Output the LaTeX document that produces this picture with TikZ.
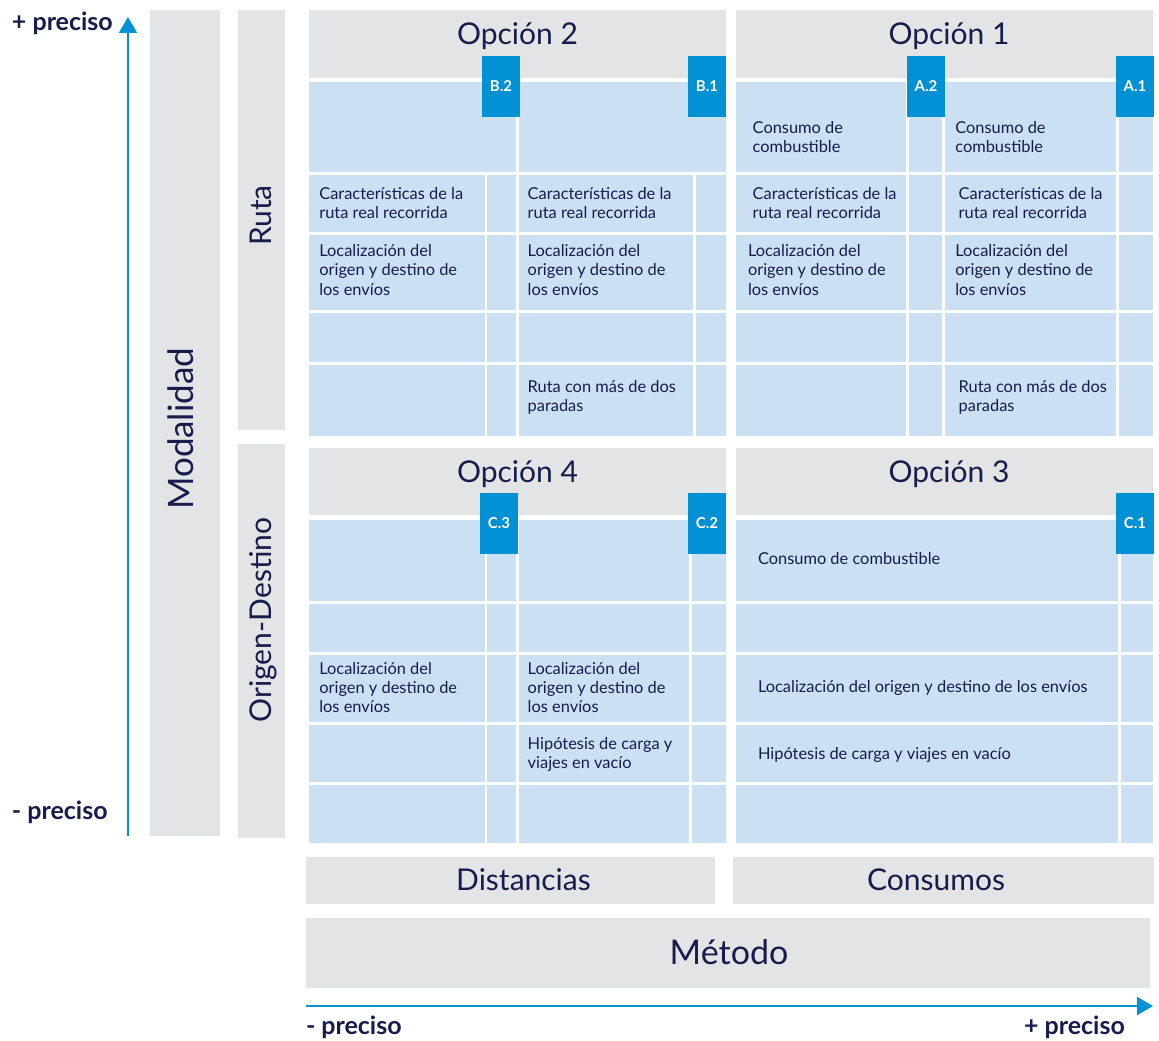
\documentclass[tikz,border=0pt]{standalone}
\usepackage{fontspec}
\setmainfont{Lato}
\usetikzlibrary{arrows.meta}

\definecolor{bargrey}{HTML}{E3E4E6}
\definecolor{cellblue}{HTML}{CCE0F4}
\definecolor{tagblue}{HTML}{0091D5}
\definecolor{inkblue}{HTML}{161C4B}

\begin{document}
\begin{tikzpicture}[x=1pt, y=-1pt, inner sep=0, outer sep=0,
  greybox/.style={rectangle, fill=bargrey, anchor=north west},
  cellarea/.style={rectangle, fill=cellblue, anchor=north west, minimum width=417pt},
  gap/.style={draw=white, line width=3pt},
  thingap/.style={draw=white, line width=1.8pt},
  tag/.style={rectangle, fill=tagblue, anchor=north west, minimum width=38pt, minimum height=61pt,
    text=white, font=\bfseries\fontsize{15}{15}\selectfont},
  celltext/.style={anchor=base west, align=left, text=inkblue, font=\fontsize{16.4}{19.3}\selectfont},
  heading/.style={anchor=base, text=inkblue, font=\fontsize{30}{30}\selectfont},
  sidelabel/.style={anchor=base, rotate=90, text=inkblue, font=\fontsize{30}{30}\selectfont},
  axislabel/.style={anchor=base west, text=inkblue, font=\bfseries\fontsize{25}{25}\selectfont},
  axis/.style={draw=tagblue, line width=2pt, -{Triangle[length=16pt, width=18pt]}}]

  \useasboundingbox (0,0) rectangle (1159,1041);

  % vertical axis
  \coordinate (vlow) at (128,836);
  \coordinate (vhigh) at (128,17);
  \draw[axis] (vlow) -- (vhigh);
  \node[axislabel] (vhighlabel) at (12,31) {+ preciso};
  \node[axislabel] (vlowlabel) at (12,819) {- preciso};

  % side bars
  \node[greybox, minimum width=70pt, minimum height=826pt] (modalidad) at (150,10) {};
  \node[sidelabel, font=\fontsize{35}{35}\selectfont] (modalidadlabel) at (193.3,428.8) {Modalidad};
  \node[greybox, minimum width=47pt, minimum height=420pt] (ruta) at (238,10) {};
  \node[sidelabel] (rutalabel) at (271.7,215.5) {Ruta};
  \node[greybox, minimum width=47pt, minimum height=394pt] (od) at (238,444) {};
  \node[sidelabel] (odlabel) at (271.7,620) {Origen-Destino};

  % option headers
  \node[greybox, minimum width=417pt, minimum height=68pt] (opt2head) at (309,10) {};
  \node[heading] (opt2label) at (517.5,45) {Opción 2};
  \node[greybox, minimum width=417pt, minimum height=68pt] (opt1head) at (736,10) {};
  \node[heading] (opt1label) at (949,45) {Opción 1};
  \node[greybox, minimum width=417pt, minimum height=67pt] (opt4head) at (309,448) {};
  \node[heading] (opt4label) at (517.5,482.7) {Opción 4};
  \node[greybox, minimum width=417pt, minimum height=67pt] (opt3head) at (736,448) {};
  \node[heading] (opt3label) at (949,482.7) {Opción 3};

  % cell areas
  \node[cellarea, minimum height=354pt] (opt2) at (309,82) {};
  \node[cellarea, minimum height=354pt] (opt1) at (736,82) {};
  \node[cellarea, minimum height=323pt] (opt4) at (309,520) {};
  \node[cellarea, minimum height=323pt] (opt3) at (736,520) {};

  % white rules, upper blocks
  \draw[gap] (309,173) -- (726,173);
  \draw[gap] (309,233) -- (726,233);
  \draw[gap] (309,311.5) -- (726,311.5);
  \draw[gap] (309,363) -- (726,363);
  \draw[thingap] (486.3,173) -- (486.3,436);
  \draw[gap] (517.5,82) -- (517.5,436);
  \draw[gap] (694.7,173) -- (694.7,436);

  \draw[gap] (736,173) -- (1153,173);
  \draw[gap] (736,233) -- (1153,233);
  \draw[gap] (736,311.5) -- (1153,311.5);
  \draw[gap] (736,363) -- (1153,363);
  \draw[gap] (907.5,82) -- (907.5,436);
  \draw[gap] (943.5,82) -- (943.5,436);
  \draw[gap] (1117.3,82) -- (1117.3,436);

  % white rules, lower blocks
  \draw[gap] (309,602.3) -- (726,602.3);
  \draw[gap] (309,653.3) -- (726,653.3);
  \draw[gap] (309,723.3) -- (726,723.3);
  \draw[gap] (309,783.3) -- (726,783.3);
  \draw[thingap] (486,520) -- (486,843);
  \draw[gap] (517.5,520) -- (517.5,843);
  \draw[gap] (690,520) -- (690,843);

  \draw[gap] (736,602.3) -- (1153,602.3);
  \draw[gap] (736,653.3) -- (1153,653.3);
  \draw[gap] (736,723.3) -- (1153,723.3);
  \draw[gap] (736,783.3) -- (1153,783.3);
  \draw[gap] (1119.3,520) -- (1119.3,843);

  % tags
  \node[tag] (b2) at (482,56) {B.2};
  \node[tag] (b1) at (688,56) {B.1};
  \node[tag] (a2) at (907,56) {A.2};
  \node[tag] (a1) at (1116,56) {A.1};
  \node[tag] (c3) at (480,493) {C.3};
  \node[tag] (c2) at (688,493) {C.2};
  \node[tag] (c1) at (1116,493) {C.1};

  % cell texts, option 2 (placed on the last baseline)
  \node[celltext] (b2ruta) at (319.3,218.6) {Características de la\\ruta real recorrida};
  \node[celltext] (b1ruta) at (527.7,218.6) {Características de la\\ruta real recorrida};
  \node[celltext] (b2loc) at (319.3,295) {Localización del\\origen y destino de\\los envíos};
  \node[celltext] (b1loc) at (527.7,295) {Localización del\\origen y destino de\\los envíos};
  \node[celltext] (b1stops) at (527.7,411.7) {Ruta con más de dos\\paradas};

  % cell texts, option 1
  \node[celltext] (a2fuel) at (752.7,152.7) {Consumo de\\combustible};
  \node[celltext] (a1fuel) at (955.3,152.7) {Consumo de\\combustible};
  \node[celltext] (a2ruta) at (752.7,218.6) {Características de la\\ruta real recorrida};
  \node[celltext] (a1ruta) at (958.7,218.6) {Características de la\\ruta real recorrida};
  \node[celltext] (a2loc) at (748,295) {Localización del\\origen y destino de\\los envíos};
  \node[celltext] (a1loc) at (955.3,295) {Localización del\\origen y destino de\\los envíos};
  \node[celltext] (a1stops) at (958.7,411.7) {Ruta con más de dos\\paradas};

  % cell texts, option 4
  \node[celltext] (c3loc) at (319.3,712.7) {Localización del\\origen y destino de\\los envíos};
  \node[celltext] (c2loc) at (527.7,712.7) {Localización del\\origen y destino de\\los envíos};
  \node[celltext] (c2load) at (527.7,768.3) {Hipótesis de carga y\\viajes en vacío};

  % cell texts, option 3
  \node[celltext] (c1fuel) at (758,564) {Consumo de combustible};
  \node[celltext] (c1loc) at (758,692.7) {Localización del origen y destino de los envíos};
  \node[celltext] (c1load) at (758,759) {Hipótesis de carga y viajes en vacío};

  % method bars
  \node[greybox, minimum width=409pt, minimum height=47pt] (distancias) at (306,857) {};
  \node[heading] (distlabel) at (523.5,890) {Distancias};
  \node[greybox, minimum width=421pt, minimum height=47pt] (consumos) at (733,857) {};
  \node[heading] (conslabel) at (936,890) {Consumos};
  \node[greybox, minimum width=844pt, minimum height=70pt] (metodo) at (306,918) {};
  \node[heading, font=\fontsize{34}{34}\selectfont] (metodolabel) at (729,964) {Método};

  % horizontal axis
  \coordinate (hlow) at (306,1006);
  \coordinate (hhigh) at (1153,1006);
  \draw[axis] (hlow) -- (hhigh);
  \node[axislabel] (hlowlabel) at (306,1034) {- preciso};
  \node[axislabel] (hhighlabel) at (1024,1034) {+ preciso};
\end{tikzpicture}
\end{document}
